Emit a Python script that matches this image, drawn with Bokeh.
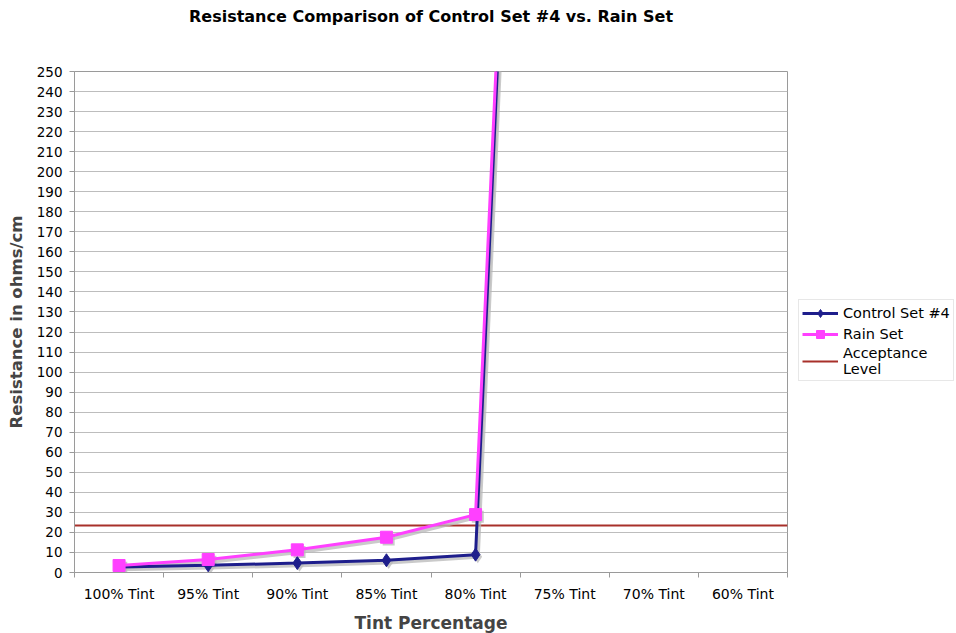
from bokeh.plotting import figure
from bokeh.models import (Range1d, FixedTicker, Legend, LegendItem,
                          ColumnDataSource, Title)
from bokeh.transform import dodge
from bokeh.embed import file_html
from bokeh.resources import INLINE
import numpy as np

# --- data -------------------------------------------------------------
tint_labels = ["100% Tint", "95% Tint", "90% Tint", "85% Tint",
               "80% Tint", "75% Tint", "70% Tint", "60% Tint"]
control_set_4 = [2.7, 3.6, 4.7, 6.1, 8.9, 1000, np.nan, np.nan]
rain_set = [3.5, 6.5, 11.3, 17.6, 28.9, 1000, np.nan, np.nan]
acceptance_level = 23.5
y_ticks = list(range(0, 260, 10))
chart_title = "Resistance Comparison of Control Set #4 vs. Rain Set"

FONT = "DejaVu Sans"
NAVY = "#1E1E8C"
MAGENTA = "#FF40FF"
ACCEPT = "#A8302A"
SHADOW = "#b8b8b8"
AXIS_GREY = "#9a9a9a"

x_pos = np.arange(len(tint_labels)) + 0.5
src = ColumnDataSource(dict(x=x_pos, ctrl=control_set_4, rain=rain_set))

p = figure(frame_width=713, frame_height=501, output_backend="svg",
           toolbar_location=None,
           x_range=Range1d(0, len(tint_labels)), y_range=Range1d(0, 250),
           min_border_left=74, min_border_right=0, min_border_top=71,
           min_border_bottom=61)

# two trailing blank lines keep the heading near the top edge of the page
p.title = Title(text=chart_title + "\n\n", align="center", vertical_align="top",
                text_font=FONT, text_font_size="16px", text_font_style="bold",
                text_color="black", standoff=12)

p.background_fill_color = "white"
p.border_fill_color = "white"
p.outline_line_color = AXIS_GREY
p.outline_line_width = 1

# grid
p.xgrid.grid_line_color = None
p.ygrid.grid_line_color = "#bdbdbd"
p.ygrid.grid_line_width = 1
p.ygrid.ticker = FixedTicker(ticks=y_ticks)

# y axis
yax = p.yaxis[0]
yax.ticker = FixedTicker(ticks=y_ticks)
yax.axis_label = "Resistance in ohms/cm"
yax.axis_label_text_font = FONT
yax.axis_label_text_font_size = "16.5px"
yax.axis_label_text_font_style = "bold"
yax.axis_label_standoff = 8
yax.major_label_text_font = FONT
yax.major_label_text_font_size = "13.5px"
yax.major_label_text_color = "black"
yax.major_label_standoff = 7
yax.major_tick_out = 5
yax.major_tick_in = 0
yax.minor_tick_line_color = None
yax.axis_line_color = AXIS_GREY
yax.major_tick_line_color = AXIS_GREY

# x axis: labels at category centres, tick marks at category boundaries
xax = p.below[0]
xax.ticker = FixedTicker(ticks=list(x_pos),
                         minor_ticks=list(range(len(tint_labels) + 1)))
xax.major_label_overrides = {float(x): lab for x, lab in zip(x_pos, tint_labels)}
xax.major_tick_line_color = None
xax.minor_tick_out = 5
xax.minor_tick_in = 0
xax.minor_tick_line_color = AXIS_GREY
xax.axis_line_color = AXIS_GREY
xax.major_label_text_font = FONT
xax.major_label_text_font_size = "14px"
xax.major_label_text_color = "black"
xax.major_label_standoff = 7
xax.axis_label = "Tint Percentage"
xax.axis_label_text_font = FONT
xax.axis_label_text_font_size = "17px"
xax.axis_label_text_font_style = "bold"
xax.axis_label_standoff = 8

# acceptance level across the whole range
acc = p.line(x=[0, len(tint_labels)], y=[acceptance_level] * 2,
             line_color=ACCEPT, line_width=2)

# drop shadows under the series
sx = dodge("x", 0.025, range=p.x_range)
for col in ("ctrl", "rain"):
    sy = dodge(col, -1.1, range=p.y_range)
    p.line(x=sx, y=sy, source=src, line_color=SHADOW, line_width=4, line_alpha=0.75)
p.scatter(x=sx, y=dodge("ctrl", -1.1, range=p.y_range), source=src,
          marker="diamond", size=13, fill_color=SHADOW, line_color=None, alpha=0.75)
p.scatter(x=sx, y=dodge("rain", -1.1, range=p.y_range), source=src,
          marker="square", size=12, fill_color=SHADOW, line_color=None, alpha=0.75)

# series
c_line = p.line("x", "ctrl", source=src, line_color=NAVY, line_width=3)
c_mark = p.scatter("x", "ctrl", source=src, marker="diamond", size=13,
                   fill_color=NAVY, line_color=NAVY)
r_line = p.line("x", "rain", source=src, line_color=MAGENTA, line_width=3)
r_mark = p.scatter("x", "rain", source=src, marker="square", size=12,
                   fill_color=MAGENTA, line_color=MAGENTA)

legend = Legend(items=[
    LegendItem(label="Control Set #4", renderers=[c_line, c_mark]),
    LegendItem(label="Rain Set", renderers=[r_line, r_mark]),
    LegendItem(label="Acceptance\nLevel", renderers=[acc]),
], location=(11, 191), label_text_font=FONT, label_text_font_size="14.5px",
    label_text_color="black", glyph_width=36, glyph_height=20,
    label_standoff=5, spacing=1, padding=3, margin=0,
    border_line_color="#cfcfcf", background_fill_color="white",
    background_fill_alpha=1.0)
p.add_layout(legend, "right")

open("out.html", "w").write(file_html(p, INLINE))
